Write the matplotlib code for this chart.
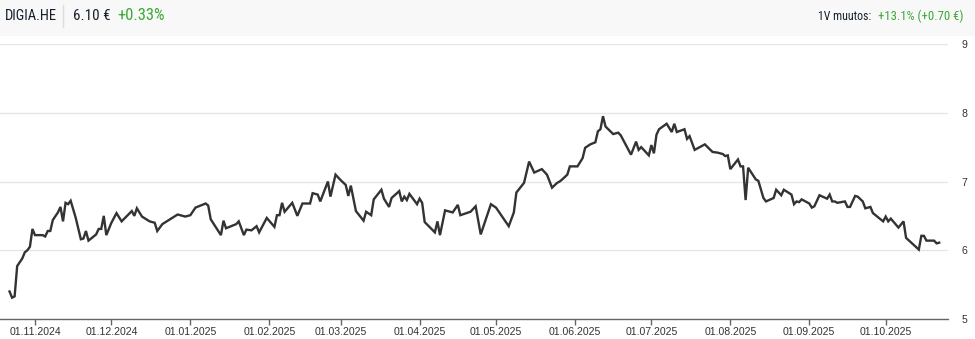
import matplotlib
matplotlib.use("Agg")
import matplotlib.pyplot as plt
import matplotlib.dates as mdates
from matplotlib.patches import Rectangle
from matplotlib.lines import Line2D
from matplotlib import font_manager as fm
import pandas as pd

ticker = "DIGIA.HE"
last_price = "6.10 €"
day_change = "+0.33%"
year_label = "1V muutos:"
year_change = "+13.1% (+0.70 €)"

dates = [
    "2024-10-22", "2024-10-23", "2024-10-24", "2024-10-25", "2024-10-27", "2024-10-28",
    "2024-10-29", "2024-10-30", "2024-10-31", "2024-11-01", "2024-11-04", "2024-11-05",
    "2024-11-06", "2024-11-07", "2024-11-08", "2024-11-10", "2024-11-11", "2024-11-12",
    "2024-11-13", "2024-11-14", "2024-11-15", "2024-11-17", "2024-11-19", "2024-11-20",
    "2024-11-21", "2024-11-22", "2024-11-25", "2024-11-26", "2024-11-27", "2024-11-28",
    "2024-11-29", "2024-12-01", "2024-12-03", "2024-12-05", "2024-12-09", "2024-12-10",
    "2024-12-11", "2024-12-13", "2024-12-16", "2024-12-18", "2024-12-19", "2024-12-21",
    "2024-12-24", "2024-12-27", "2024-12-30", "2025-01-01", "2025-01-03", "2025-01-07",
    "2025-01-08", "2025-01-09", "2025-01-13", "2025-01-14", "2025-01-15", "2025-01-17",
    "2025-01-19", "2025-01-20", "2025-01-22", "2025-01-23", "2025-01-25", "2025-01-27",
    "2025-01-28", "2025-01-31", "2025-02-03", "2025-02-04", "2025-02-05", "2025-02-06",
    "2025-02-07", "2025-02-10", "2025-02-12", "2025-02-14", "2025-02-17", "2025-02-18",
    "2025-02-20", "2025-02-21", "2025-02-24", "2025-02-25", "2025-02-27", "2025-03-01",
    "2025-03-03", "2025-03-04", "2025-03-05", "2025-03-07", "2025-03-10", "2025-03-11",
    "2025-03-13", "2025-03-14", "2025-03-17", "2025-03-18", "2025-03-20", "2025-03-21",
    "2025-03-24", "2025-03-25", "2025-03-26", "2025-03-27", "2025-03-28", "2025-03-31",
    "2025-04-01", "2025-04-02", "2025-04-03", "2025-04-07", "2025-04-08", "2025-04-09",
    "2025-04-11", "2025-04-14", "2025-04-16", "2025-04-17", "2025-04-21", "2025-04-23",
    "2025-04-25", "2025-04-29", "2025-05-01", "2025-05-06", "2025-05-08", "2025-05-09",
    "2025-05-12", "2025-05-14", "2025-05-16", "2025-05-19", "2025-05-21", "2025-05-23",
    "2025-05-25", "2025-05-26", "2025-05-27", "2025-05-29", "2025-05-30", "2025-06-02",
    "2025-06-04", "2025-06-05", "2025-06-07", "2025-06-09", "2025-06-10", "2025-06-11",
    "2025-06-12", "2025-06-13", "2025-06-16", "2025-06-18", "2025-06-19", "2025-06-23",
    "2025-06-25", "2025-06-26", "2025-06-27", "2025-06-30", "2025-07-01", "2025-07-02",
    "2025-07-03", "2025-07-04", "2025-07-07", "2025-07-09", "2025-07-10", "2025-07-11",
    "2025-07-14", "2025-07-15", "2025-07-16", "2025-07-18", "2025-07-22", "2025-07-25",
    "2025-07-27", "2025-07-29", "2025-07-30", "2025-07-31", "2025-08-01", "2025-08-04",
    "2025-08-05", "2025-08-06", "2025-08-07", "2025-08-08", "2025-08-11", "2025-08-12",
    "2025-08-14", "2025-08-15", "2025-08-18", "2025-08-19", "2025-08-21", "2025-08-22",
    "2025-08-25", "2025-08-26", "2025-08-27", "2025-08-28", "2025-08-29", "2025-09-01",
    "2025-09-02", "2025-09-03", "2025-09-05", "2025-09-08", "2025-09-09", "2025-09-10",
    "2025-09-11", "2025-09-12", "2025-09-15", "2025-09-16", "2025-09-17", "2025-09-19",
    "2025-09-20", "2025-09-22", "2025-09-23", "2025-09-25", "2025-09-26", "2025-09-30",
    "2025-10-01", "2025-10-02", "2025-10-03", "2025-10-06", "2025-10-08", "2025-10-09",
    "2025-10-14", "2025-10-15", "2025-10-16", "2025-10-17", "2025-10-20", "2025-10-21",
    "2025-10-22",
]

prices = [
    5.40, 5.31, 5.33, 5.77, 5.88, 5.97,
    6.00, 6.05, 6.31, 6.22, 6.22, 6.20,
    6.28, 6.28, 6.44, 6.55, 6.63, 6.42,
    6.69, 6.67, 6.72, 6.47, 6.16, 6.17,
    6.28, 6.14, 6.23, 6.31, 6.31, 6.50,
    6.22, 6.40, 6.54, 6.42, 6.57, 6.50,
    6.61, 6.49, 6.42, 6.40, 6.28, 6.38,
    6.45, 6.52, 6.49, 6.51, 6.62, 6.68,
    6.65, 6.45, 6.22, 6.43, 6.32, 6.35,
    6.38, 6.42, 6.22, 6.30, 6.29, 6.35,
    6.26, 6.47, 6.34, 6.51, 6.51, 6.69,
    6.56, 6.69, 6.50, 6.68, 6.68, 6.83,
    6.81, 6.71, 7.00, 6.78, 7.10, 7.02,
    6.95, 6.79, 6.94, 6.57, 6.43, 6.56,
    6.51, 6.74, 6.88, 6.75, 6.63, 6.76,
    6.86, 6.71, 6.78, 6.73, 6.82, 6.67,
    6.75, 6.69, 6.41, 6.26, 6.42, 6.22,
    6.58, 6.55, 6.66, 6.51, 6.56, 6.64,
    6.23, 6.67, 6.62, 6.35, 6.55, 6.84,
    6.98, 7.29, 7.13, 7.18, 7.10, 6.91,
    6.98, 7.00, 7.03, 7.10, 7.22, 7.22,
    7.34, 7.49, 7.54, 7.57, 7.73, 7.76,
    7.95, 7.80, 7.69, 7.71, 7.67, 7.39,
    7.58, 7.46, 7.50, 7.38, 7.53, 7.41,
    7.68, 7.76, 7.84, 7.72, 7.84, 7.72,
    7.76, 7.62, 7.66, 7.46, 7.54, 7.43,
    7.42, 7.40, 7.37, 7.38, 7.18, 7.32,
    7.22, 7.22, 6.73, 7.20, 7.03, 7.01,
    6.76, 6.71, 6.76, 6.88, 6.80, 6.88,
    6.81, 6.67, 6.71, 6.70, 6.74, 6.68,
    6.62, 6.64, 6.80, 6.75, 6.81, 6.71,
    6.71, 6.69, 6.71, 6.63, 6.63, 6.79,
    6.78, 6.71, 6.61, 6.63, 6.54, 6.42,
    6.49, 6.42, 6.46, 6.33, 6.42, 6.18,
    6.01, 6.21, 6.21, 6.14, 6.14, 6.10,
    6.11,
]

tick_dates = ["2024-11-01", "2024-12-01", "2025-01-01", "2025-02-01", "2025-03-01",
              "2025-04-01", "2025-05-01", "2025-06-01", "2025-07-01", "2025-08-01",
              "2025-09-01", "2025-10-01"]
y_ticks = [5, 6, 7, 8, 9]


def pick_condensed_font():
    """Find a narrow/condensed regular font among installed ones."""
    prefs = ["Roboto Condensed", "Open Sans Condensed", "Liberation Sans Narrow",
             "Noto Sans Condensed", "DejaVu Sans"]
    cands = []
    for f in fm.fontManager.ttflist:
        narrow = ("Condensed" in f.name or "Narrow" in f.name or
                  f.stretch in ("condensed", "semi-condensed", "extra-condensed", "ultra-condensed")
                  or (isinstance(f.stretch, int) and f.stretch < 500))
        if not narrow:
            continue
        if f.style != "normal":
            continue
        w = f.weight if isinstance(f.weight, int) else {"normal": 400, "regular": 400,
                                                          "book": 400, "medium": 500}.get(str(f.weight), 700)
        if w > 500:
            continue
        rank = len(prefs)
        for i, p in enumerate(prefs):
            if f.name.startswith(p):
                rank = i
                break
        cands.append((rank, abs(w - 450), f.fname))
    if cands:
        cands.sort()
        return fm.FontProperties(fname=cands[0][2])
    return fm.FontProperties(family=["Roboto", "DejaVu Sans"])


W, H = 975, 339
fig = plt.figure(figsize=(W / 100, H / 100), dpi=100)
fig.patch.set_facecolor("white")
renderer = fig.canvas.get_renderer()

# header band
fig.patches.append(Rectangle((0, 1 - 36 / H), 1, 36 / H, transform=fig.transFigure,
                             facecolor="#f8f8f8", edgecolor="none", zorder=0))
fig.lines.append(Line2D([63 / W, 63 / W], [1 - 5 / H, 1 - 27 / H], transform=fig.transFigure,
                        color="#dddddd", linewidth=1))

hprop = pick_condensed_font()
yh = 1 - 16 / H


def fitted_text(x_px, s, target_w, color, ha, max_size):
    t = fig.text(x_px / W, yh, s, fontproperties=hprop.copy(), color=color,
                 va="center", ha=ha)
    t.set_fontsize(max_size)
    w = t.get_window_extent(renderer).width
    if w > target_w:
        t.set_fontsize(max_size * target_w / w)
    return t


fitted_text(5, ticker, 52, "#15202c", "left", 12)
fitted_text(73, last_price, 37, "#15202c", "left", 12)
fitted_text(117, day_change, 48, "#3aa935", "left", 12)
fitted_text(871, year_label, 54, "#15202c", "right", 10.5)
fitted_text(964, year_change, 86, "#3aa935", "right", 10.5)

ax = fig.add_axes([0, (H - 319) / H, 948 / W, (319 - 44) / H])
ax.set_facecolor("white")

x = pd.to_datetime(dates)
ax.plot(x, prices, color="#333333", linewidth=1.7, solid_joinstyle="miter", zorder=3)

origin = mdates.date2num(pd.Timestamp("2024-11-01"))
ax.set_xlim(origin - 35 / 2.547, origin + (948 - 35) / 2.547)
ax.set_ylim(5, 9)

ax.set_xticks(pd.to_datetime(tick_dates))
ax.xaxis.set_major_formatter(mdates.DateFormatter("%d.%m.%Y"))
ax.set_yticks(y_ticks)
ax.yaxis.tick_right()
ax.grid(axis="y", color="#e6e6e6", linewidth=1)
ax.set_axisbelow(True)

for s in ["top", "left", "right"]:
    ax.spines[s].set_visible(False)
ax.spines["bottom"].set_color("#666666")
ax.spines["bottom"].set_linewidth(1)

ax.tick_params(axis="x", direction="out", length=4, width=1, color="#666666",
               labelsize=7.6, labelcolor="#333333", pad=1.5)
ax.tick_params(axis="y", length=0, labelsize=7.6, labelcolor="#333333", pad=10)
for lab in ax.get_xticklabels() + ax.get_yticklabels():
    lab.set_family(["Liberation Sans", "DejaVu Sans"])

fig.savefig("out.png", dpi=100, facecolor="white")
